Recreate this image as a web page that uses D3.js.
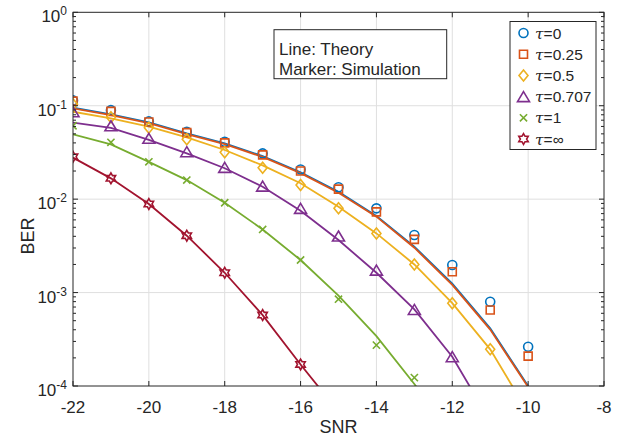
<!doctype html>
<html lang="en">
<head>
<meta charset="utf-8">
<title>BER vs SNR</title>
<script src="https://cdnjs.cloudflare.com/ajax/libs/d3/7.8.5/d3.min.js"></script>
<style>
  body { margin: 0; background: #fff; }
  text { font-family: "Liberation Sans", Arial, Helvetica, sans-serif; fill: #262626; }
</style>
</head>
<body>
<svg width="618" height="438" id="svg"></svg>
<script>
// SNR points used by the theory curves
var snr = [-22, -21, -20, -19, -18, -17, -16, -15, -14, -13, -12, -11, -10];
var tauLabels = ['0', '0.25', '0.5', '0.707', '1', '\u221e'];

// theory (lines)
var theory0    = [0.0952, 0.0809, 0.0664, 0.0506, 0.0396, 0.0289, 0.0194, 0.0120, 0.0066, 0.0031, 0.00125, 0.000414, 0.000100];
var theory025  = [0.0935, 0.0795, 0.0650, 0.0497, 0.0388, 0.0283, 0.0190, 0.0117, 0.0065, 0.00302, 0.00121, 0.000402, 0.0000975];
var theory05   = [0.0862, 0.0733, 0.0596, 0.0459, 0.0336, 0.0230, 0.0148, 0.0083, 0.0043, 0.0020, 0.00077, 0.000247, 0.000052];
var theory0707 = [0.0658, 0.0580, 0.0430, 0.0309, 0.0214, 0.0136, 0.0075, 0.00365, 0.00163, 0.00066, 0.000206, 0.000042, 0.000008];
var theory1    = [0.0494, 0.0386, 0.0251, 0.0160, 0.00916, 0.00474, 0.00223, 0.00093, 0.000342, 0.000105, 0.000030, 0.000007, 0.000001];
var theoryInf  = [0.0278, 0.0167, 0.00887, 0.00406, 0.00163, 0.000574, 0.000170, 0.000053, 0.000012, 0.000002, 0.0000003, 0.00000003, 0.000000002];

// simulation (markers), starting at SNR = -22
var sim0    = [0.114, 0.0897, 0.0680, 0.0527, 0.0412, 0.0309, 0.0208, 0.0134, 0.00797, 0.00413, 0.00197, 0.000797, 0.000263];
var sim025  = [0.112, 0.0870, 0.0670, 0.0515, 0.0400, 0.0298, 0.0200, 0.0128, 0.0073, 0.00371, 0.00167, 0.00065, 0.000209];
var sim05   = [0.104, 0.0751, 0.0580, 0.0437, 0.0317, 0.0217, 0.0142, 0.00797, 0.0043, 0.0020, 0.00077, 0.000247];
var sim0707 = [0.0862, 0.0610, 0.0448, 0.0322, 0.0219, 0.0138, 0.00797, 0.00403, 0.00174, 0.00066, 0.000206];
var sim1    = [0.0610, 0.0406, 0.0251, 0.0160, 0.00916, 0.00474, 0.00223, 0.00085, 0.000274, 0.000123];
var simInf  = [0.0284, 0.0167, 0.00887, 0.00406, 0.00163, 0.000574, 0.000170];

var xTicks = [-22, -20, -18, -16, -14, -12, -10, -8];
var yTicks = [1e-4, 1e-3, 1e-2, 1e-1, 1];

var colors = ['#0072BD', '#D95319', '#EDB120', '#7E2F8E', '#77AC30', '#A2142F'];
var markers = ['circle', 'square', 'diamond', 'triangle', 'cross', 'hexagram'];
var theory = [theory0, theory025, theory05, theory0707, theory1, theoryInf];
var sims = [sim0, sim025, sim05, sim0707, sim1, simInf];

var pLeft = 73, pRight = 604, pTop = 12.3, pBottom = 386;
var x = d3.scaleLinear().domain([-22, -8]).range([pLeft, pRight]);
var y = d3.scaleLog().domain([1e-4, 1]).range([pBottom, pTop]);

var svg = d3.select('#svg');

svg.append('clipPath').attr('id', 'plotclip')
  .append('rect').attr('x', pLeft).attr('y', pTop).attr('width', pRight - pLeft).attr('height', pBottom - pTop);

// grid
var grid = svg.append('g').attr('stroke', '#dfdfdf').attr('stroke-width', 1);
grid.selectAll('.vg').data(xTicks.slice(1, -1)).enter().append('line')
  .attr('x1', function(d) { return x(d); }).attr('x2', function(d) { return x(d); })
  .attr('y1', pTop).attr('y2', pBottom);
grid.selectAll('.hg').data(yTicks.slice(1, -1)).enter().append('line')
  .attr('y1', function(d) { return y(d); }).attr('y2', function(d) { return y(d); })
  .attr('x1', pLeft).attr('x2', pRight);

// marker paths
function markerPath(type) {
  if (type == 'circle') return d3.symbol().type(d3.symbolCircle).size(Math.PI * 4.5 * 4.5)();
  if (type == 'square') return 'M-4,-4H4V4H-4Z';
  if (type == 'diamond') return 'M0,-5.5L4.5,0L0,5.5L-4.5,0Z';
  if (type == 'triangle') return 'M0,-5L6,5L-6,5Z';
  if (type == 'cross') return 'M-3.6,-3.6L3.6,3.6M-3.6,3.6L3.6,-3.6';
  var R = 5.4, r = R / Math.sqrt(3), p = [];
  for (var k = 0; k < 12; k++) {
    var a = -Math.PI / 2 + k * Math.PI / 6;
    var rr = k % 2 == 0 ? R : r;
    p.push([rr * Math.cos(a), rr * Math.sin(a)]);
  }
  return 'M' + p.join('L') + 'Z';
}

var plot = svg.append('g').attr('clip-path', 'url(#plotclip)');
var line = d3.line()
  .x(function(d, i) { return x(snr[i]); })
  .y(function(d) { return y(d); });

theory.forEach(function(series, s) {
  plot.append('path')
    .attr('d', line(series))
    .attr('fill', 'none')
    .attr('stroke', colors[s])
    .attr('stroke-width', 1.8);
});

sims.forEach(function(series, s) {
  plot.selectAll('.m' + s).data(series).enter().append('path')
    .attr('class', 'm' + s)
    .attr('transform', function(d, i) { return 'translate(' + x(snr[i]) + ',' + y(d) + ')'; })
    .attr('d', markerPath(markers[s]))
    .attr('fill', 'none')
    .attr('stroke', colors[s])
    .attr('stroke-width', 1.6);
});

// axes box
var ax = svg.append('g').attr('stroke', '#262626').attr('stroke-width', 1).attr('fill', 'none');
ax.append('rect').attr('x', pLeft).attr('y', pTop).attr('width', pRight - pLeft).attr('height', pBottom - pTop);

// x ticks (inward, bottom and top)
xTicks.forEach(function(t) {
  ax.append('line').attr('x1', x(t)).attr('x2', x(t)).attr('y1', pBottom).attr('y2', pBottom - 5);
  ax.append('line').attr('x1', x(t)).attr('x2', x(t)).attr('y1', pTop).attr('y2', pTop + 5);
});
svg.selectAll('.xl').data(xTicks).enter().append('text')
  .attr('x', function(d) { return x(d); })
  .attr('y', 413)
  .attr('text-anchor', 'middle')
  .attr('font-size', 17)
  .text(function(d) { return d; });

// y ticks: major + minor on both sides
yTicks.forEach(function(t, k) {
  ax.append('line').attr('x1', pLeft).attr('x2', pLeft + 5).attr('y1', y(t)).attr('y2', y(t));
  ax.append('line').attr('x1', pRight).attr('x2', pRight - 5).attr('y1', y(t)).attr('y2', y(t));
  if (k < yTicks.length - 1) {
    for (var m = 2; m <= 9; m++) {
      var v = t * m;
      ax.append('line').attr('x1', pLeft).attr('x2', pLeft + 3).attr('y1', y(v)).attr('y2', y(v));
      ax.append('line').attr('x1', pRight).attr('x2', pRight - 3).attr('y1', y(v)).attr('y2', y(v));
    }
  }
});
var yl = svg.selectAll('.yl').data(yTicks).enter().append('text')
  .attr('x', 67)
  .attr('y', function(d) { return y(d) + 10; })
  .attr('text-anchor', 'end')
  .attr('font-size', 17);
yl.append('tspan').text('10');
yl.append('tspan').attr('font-size', 12).attr('dy', -7)
  .text(function(d) { return Math.round(Math.log10(d)); });

// axis labels
svg.append('text').attr('x', (pLeft + pRight) / 2).attr('y', 433)
  .attr('text-anchor', 'middle').attr('font-size', 18).text('SNR');
svg.append('text').attr('transform', 'translate(34,236) rotate(-90)')
  .attr('text-anchor', 'middle').attr('font-size', 18).text('BER');

// annotation box
svg.append('rect').attr('x', 274).attr('y', 29.7).attr('width', 172.7).attr('height', 49)
  .attr('fill', '#fff').attr('stroke', '#262626').attr('stroke-width', 1);
svg.append('text').attr('x', 279).attr('y', 54.5).attr('font-size', 17).text('Line: Theory');
svg.append('text').attr('x', 279).attr('y', 74.5).attr('font-size', 17).text('Marker: Simulation');

// legend
var lg = svg.append('g');
lg.append('rect').attr('x', 510).attr('y', 21.5).attr('width', 86).attr('height', 128)
  .attr('fill', '#fff').attr('stroke', '#262626').attr('stroke-width', 1);
tauLabels.forEach(function(lab, s) {
  var ly = 33 + s * 21.2;
  lg.append('path').attr('transform', 'translate(523.5,' + ly + ')')
    .attr('d', markerPath(markers[s]))
    .attr('fill', 'none').attr('stroke', colors[s]).attr('stroke-width', 1.6);
  var t = lg.append('text').attr('x', 535).attr('y', ly + 5.5).attr('font-size', 15.5);
  t.append('tspan').attr('font-family', '"DejaVu Serif", serif').attr('font-style', 'italic').text('\u03c4');
  t.append('tspan').text('=' + lab);
});
</script>
</body>
</html>
